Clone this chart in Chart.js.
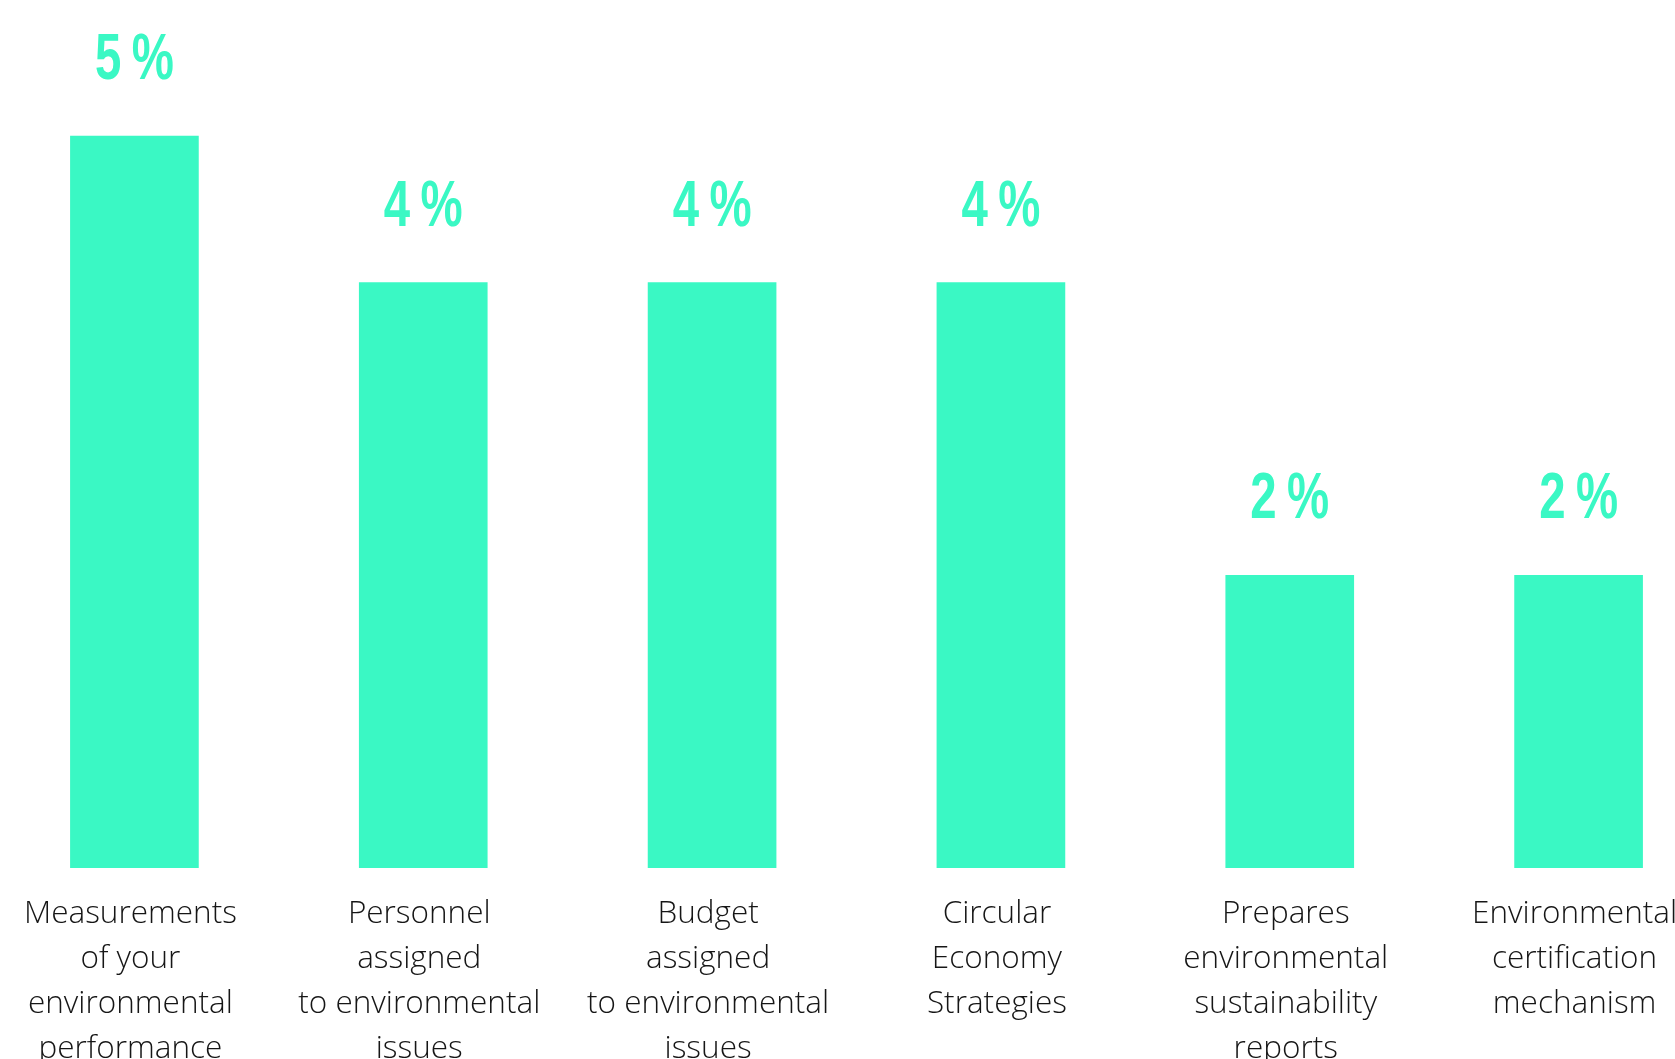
<!DOCTYPE html>
<html>
<head>
<meta charset="utf-8">
<script src="https://cdn.jsdelivr.net/npm/chart.js@4.4.1/dist/chart.umd.min.js"></script>
<style>
  html, body { margin: 0; padding: 0; background: #fff; overflow: hidden; }
  body { width: 1675px; height: 1059px; position: relative; }
  #wrap { position: absolute; left: -10px; top: 0; width: 1733px; height: 1087px; }
</style>
</head>
<body>
<div id="wrap"><canvas id="envChart"></canvas></div>
<script>
// categories (multi-line tick labels) and shares in percent
const categories = [
  ['Measurements', 'of your', 'environmental', 'performance'],
  ['Personnel', 'assigned', 'to environmental', 'issues'],
  ['Budget', 'assigned', 'to environmental', 'issues'],
  ['Circular', 'Economy', 'Strategies'],
  ['Prepares', 'environmental', 'sustainability', 'reports'],
  ['Environmental', 'certification', 'mechanism']
];
const shares = [5, 4, 4, 4, 2, 2];

const mint = '#3af8c4';

// draws the "n%" figure above each bar, squeezed to a condensed look
const valueLabels = {
  id: 'valueLabels',
  afterDatasetsDraw(chart) {
    const ctx = chart.ctx;
    const meta = chart.getDatasetMeta(0);
    const squeeze = 0.74;
    meta.data.forEach((bar, i) => {
      ctx.save();
      ctx.translate(bar.x, bar.y - 57);
      ctx.scale(squeeze, 1);
      ctx.font = "bold 64px 'Liberation Sans', Arial, sans-serif";
      ctx.letterSpacing = '14px';
      ctx.fillStyle = mint;
      ctx.textAlign = 'center';
      ctx.textBaseline = 'alphabetic';
      ctx.fillText(shares[i] + '%', 7, 0);
      ctx.restore();
    });
  }
};

new Chart(document.getElementById('envChart'), {
  type: 'bar',
  data: {
    labels: categories,
    datasets: [{
      data: shares,
      backgroundColor: mint,
      borderWidth: 0,
      barThickness: 128
    }]
  },
  options: {
    responsive: true, maintainAspectRatio: false,
    animation: false,
    layout: { padding: 0 },
    plugins: { legend: { display: false }, tooltip: { enabled: false } },
    scales: {
      y: { display: false, min: 0, max: 5.93 },
      x: {
        grid: { display: false },
        border: { display: false },
        ticks: {
          padding: 16,
          labelOffset: -4,
          maxRotation: 0,
          autoSkip: false,
          color: '#161616',
          font: { family: "'Open Sans', 'Noto Sans', sans-serif", size: 31.5, weight: '300', lineHeight: 1.42 }
        }
      }
    }
  },
  plugins: [valueLabels]
});
</script>
</body>
</html>
